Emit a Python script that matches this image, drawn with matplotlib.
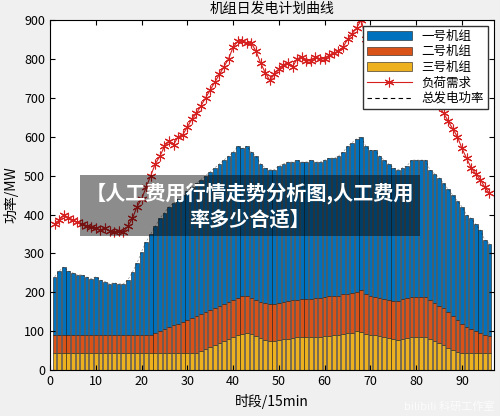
import matplotlib
matplotlib.use("Agg")
import matplotlib.pyplot as plt
import numpy as np

plt.rcParams['font.family'] = ['Noto Sans CJK SC', 'DejaVu Sans']

# top of each stacked layer per 15-min slot
total_top = [240, 255, 265, 255, 250, 245, 245, 240, 235, 240, 232, 228, 222, 225, 222, 222,
             232, 252, 275, 305, 330, 350, 370, 390, 405, 420, 430, 440, 450, 460, 470, 480,
             490, 500, 510, 520, 530, 540, 550, 560, 575, 570, 575, 560, 550, 530, 520, 515,
             515, 525, 530, 535, 535, 540, 535, 535, 540, 535, 535, 540, 545, 545, 550, 560,
             575, 585, 595, 600, 575, 565, 565, 550, 540, 530, 520, 515, 520, 525, 540, 540,
             540, 540, 515, 505, 495, 480, 465, 450, 435, 420, 400, 390, 375, 360, 335, 325]
unit23_top = [90] * 22 + [95, 100, 105, 110, 115, 120, 125, 130, 135, 140,
              145, 150, 155, 160, 165, 170, 175, 180, 185, 190, 190, 185, 180, 175, 172, 170,
              170, 172, 175, 178, 180, 180, 182, 182, 182, 185, 185, 188, 190, 190, 192, 195,
              195, 198, 200, 205, 195, 190, 188, 185, 182, 180, 178, 178, 182, 185, 188, 188,
              188, 188, 180, 172, 165, 160, 150, 140, 130, 120, 110, 105, 100, 95, 90, 88]
unit3 = [45] * 32 + [50, 55, 60, 65, 70, 75, 80, 85, 90, 92, 95, 92, 88, 82, 78, 75,
         75, 78, 80, 80, 82, 85, 85, 85, 85, 85, 85, 88, 88, 90, 90, 92,
         95, 95, 100, 98, 92, 90, 90, 88, 85, 82, 80, 78, 80, 82, 85, 85,
         85, 85, 80, 75, 70, 65, 58, 52, 48, 45, 45, 45, 45, 45, 45, 45]
load = [375, 385, 400, 390, 385, 380, 375, 370, 368, 365, 360, 365, 358, 355, 358, 355,
        370, 390, 420, 440, 470, 500, 530, 550, 575, 590, 580, 600, 605, 625, 645, 660,
        680, 700, 720, 740, 760, 780, 800, 830, 845, 845, 840, 840, 820, 790, 765, 745,
        760, 775, 785, 790, 780, 800, 805, 795, 795, 805, 800, 800, 810, 815, 820, 830,
        850, 865, 880, 900, 850, 820, 800, 790, 780, 770, 760, 755, 750, 745, 740, 735,
        725, 715, 705, 690, 680, 660, 640, 620, 600, 570, 545, 520, 505, 490, 470, 455]

t = np.arange(1, 97)
u3 = np.array(unit3)
u2 = np.array(unit23_top) - u3
u1 = np.array(total_top) - np.array(unit23_top)

fig = plt.figure(figsize=(5, 4.16), dpi=100, facecolor='#f0f0f0')
ax = fig.add_axes([0.1, 0.11, 0.888, 0.842])

b1 = ax.bar(t, u1, bottom=u3 + u2, width=0.8, color='#0072bd', edgecolor='#1a1a1a', lw=0.4)
b2 = ax.bar(t, u2, bottom=u3, width=0.8, color='#d95319', edgecolor='#1a1a1a', lw=0.4)
b3 = ax.bar(t, u3, width=0.8, color='#edb120', edgecolor='#1a1a1a', lw=0.4)
l1, = ax.plot(t, load, color='#d62020', marker=(6, 2, 0), markersize=7, mew=0.8, lw=0.8)
l2, = ax.plot(t, u1 + u2 + u3, color='k', ls=(0, (4, 3)), lw=0.4, alpha=0.5)

ax.set_xlim(0, 97)
ax.set_ylim(0, 900)
ax.set_xticks(range(0, 91, 10))
ax.set_yticks(range(0, 901, 100))
ax.tick_params(labelsize=9, direction='in', top=True, right=True)
ax.set_xlabel('时段/15min', fontsize=10)
ax.set_ylabel('功率/MW', fontsize=10)
ax.set_title('机组日发电计划曲线', fontsize=10, pad=5)

leg = ax.legend([b1, b2, b3, l1, l2], ['一号机组', '二号机组', '三号机组', '负荷需求', '总发电功率'],
                loc='upper right', fontsize=9, fancybox=False, edgecolor='#333333', framealpha=1,
                handlelength=3.6, borderpad=0.3, labelspacing=0.2)
leg.legend_handles[4].set_alpha(1)
leg.legend_handles[4].set_linewidth(0.8)

fig.text(0.5, 0.505, '【人工费用行情走势分析图,人工费用\n率多少合适】', ha='center', va='center',
         fontsize=14.5, fontweight='bold', color='white', linespacing=1.3,
         bbox=dict(boxstyle='square,pad=0.3', facecolor='#000000', alpha=0.45, edgecolor='none'))
fig.text(0.99, 0.01, 'bilibili 科研工作室', ha='right', va='bottom', fontsize=8, color='white', alpha=0.8)

fig.savefig('out.png', dpi=100, facecolor=fig.get_facecolor())
